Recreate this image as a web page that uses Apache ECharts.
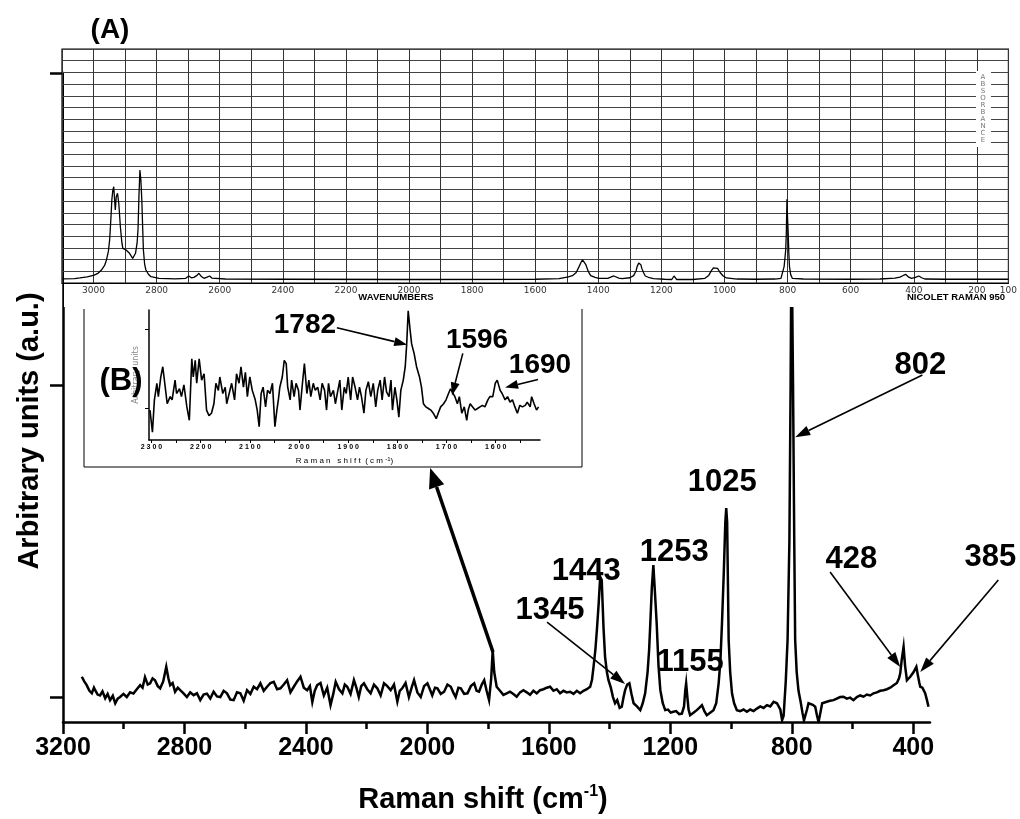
<!DOCTYPE html>
<html>
<head>
<meta charset="utf-8">
<title>Raman spectrum</title>
<script src="https://cdn.jsdelivr.net/npm/echarts@6/dist/echarts.min.js"></script>
<style>
html, body { margin: 0; padding: 0; background: #fff; }
#main { width: 1020px; height: 819px; }
</style>
</head>
<body>
<div id="main"></div>
<script>
// main spectrum: Raman shift (cm-1) / arbitrary units
var mainShift = [
  3138, 3130, 3122, 3113, 3105, 3098, 3094, 3086, 3078, 3070,
  3061, 3053, 3045, 3036, 3028, 3020, 3012, 3001, 2990, 2979,
  2968, 2957, 2946, 2938, 2930, 2921, 2913, 2905, 2897, 2888,
  2880, 2870, 2860, 2853, 2847, 2839, 2831, 2822, 2814, 2803,
  2792, 2781, 2770, 2759, 2748, 2737, 2726, 2715, 2704, 2693,
  2682, 2671, 2660, 2649, 2638, 2627, 2616, 2605, 2594, 2583,
  2572, 2561, 2550, 2539, 2528, 2517, 2506, 2495, 2484, 2473,
  2462, 2451, 2440, 2429, 2418, 2407, 2396, 2387, 2379, 2371,
  2363, 2352, 2341, 2330, 2319, 2310, 2302, 2291, 2280, 2272,
  2264, 2253, 2242, 2234, 2226, 2218, 2209, 2198, 2187, 2176,
  2165, 2154, 2143, 2132, 2121, 2110, 2099, 2091, 2083, 2072,
  2061, 2052, 2044, 2033, 2022, 2011, 2000, 1992, 1984, 1975,
  1967, 1956, 1945, 1934, 1923, 1915, 1907, 1898, 1890, 1879,
  1868, 1857, 1846, 1838, 1830, 1821, 1813, 1805, 1797, 1790,
  1785, 1780, 1772, 1761, 1750, 1739, 1728, 1717, 1706, 1695,
  1684, 1673, 1662, 1651, 1640, 1629, 1618, 1607, 1596, 1585,
  1574, 1563, 1552, 1541, 1530, 1519, 1508, 1497, 1486, 1475,
  1464, 1458, 1453, 1447, 1442, 1436, 1431, 1426, 1420, 1415,
  1409, 1404, 1396, 1389, 1382, 1375, 1367, 1360, 1354, 1349,
  1342, 1335, 1328, 1321, 1310, 1299, 1291, 1283, 1275, 1270,
  1266, 1261, 1256, 1251, 1245, 1239, 1233, 1225, 1217, 1208,
  1199, 1190, 1181, 1171, 1162, 1155, 1151, 1148, 1144, 1140,
  1135, 1124, 1113, 1105, 1096, 1088, 1080, 1069, 1058, 1049,
  1041, 1035, 1030, 1024, 1019, 1016, 1013, 1008, 1003, 997,
  990, 981, 970, 959, 948, 937, 926, 915, 904, 893,
  882, 871, 860, 849, 838, 832, 827, 820, 814, 808,
  804, 801, 799, 796, 792, 789, 784, 778, 772, 765,
  760, 756, 750, 745, 739, 731, 723, 717, 712, 706,
  700, 696, 685, 674, 663, 652, 641, 630, 619, 608,
  597, 586, 575, 564, 553, 542, 531, 520, 509, 498,
  487, 476, 465, 454, 447, 443, 438, 432, 427, 421,
  415, 410, 405, 399, 394, 390, 385, 380, 377, 370,
  365, 361, 355, 350
];
var mainSignal = [
  0.065, 0.050, 0.038, 0.020, 0.012, 0.030, 0.022, 0.008, 0.005, 0.018,
  -0.004, 0.010, -0.010, 0.004, -0.020, -0.005, 0.000, 0.010, 0.000, 0.015,
  0.011, 0.025, 0.038, 0.030, 0.064, 0.040, 0.044, 0.060, 0.054, 0.035,
  0.028, 0.050, 0.097, 0.060, 0.038, 0.045, 0.017, 0.030, 0.022, 0.012,
  0.000, 0.015, 0.006, 0.012, -0.010, 0.008, 0.011, -0.005, 0.017, 0.002,
  0.000, 0.020, 0.012, -0.008, -0.010, 0.015, 0.012, -0.012, 0.022, 0.010,
  0.033, 0.025, 0.044, 0.020, 0.033, 0.045, 0.049, 0.025, 0.028, 0.040,
  0.054, 0.015, 0.033, 0.050, 0.065, 0.030, 0.022, 0.035, -0.016, 0.020,
  0.038, 0.045, 0.005, 0.030, -0.026, 0.010, 0.049, 0.025, 0.012, 0.040,
  0.033, 0.010, 0.054, 0.030, 0.000, 0.035, 0.044, 0.025, 0.012, 0.040,
  0.028, 0.005, 0.044, 0.035, 0.022, 0.040, -0.015, 0.020, 0.028, 0.045,
  0.000, 0.030, 0.054, 0.015, 0.000, 0.035, 0.044, 0.025, 0.005, 0.030,
  0.028, 0.010, 0.017, 0.040, 0.033, 0.015, 0.000, 0.030, 0.028, 0.010,
  0.012, 0.035, 0.044, 0.020, 0.017, 0.040, 0.054, 0.020, -0.010, 0.060,
  0.150, 0.080, 0.033, 0.020, 0.007, 0.012, 0.017, 0.010, 0.001, 0.015,
  0.022, 0.015, 0.007, 0.020, 0.012, 0.022, 0.025, 0.030, 0.033, 0.020,
  0.025, 0.012, 0.020, 0.015, 0.017, 0.010, 0.020, 0.012, 0.020, 0.025,
  0.033, 0.055, 0.097, 0.150, 0.214, 0.300, 0.385, 0.375, 0.220, 0.129,
  0.080, 0.055, 0.030, 0.000, -0.020, -0.010, -0.035, -0.031, 0.000, 0.022,
  0.040, 0.044, 0.010, -0.020, -0.030, -0.042, -0.020, 0.012, 0.080, 0.150,
  0.236, 0.350, 0.423, 0.340, 0.236, 0.100, 0.022, -0.020, -0.042, -0.040,
  -0.050, -0.047, -0.045, -0.055, -0.053, -0.030, 0.020, 0.044, 0.000, -0.040,
  -0.058, -0.050, -0.042, -0.035, -0.026, -0.045, -0.058, -0.050, -0.042, -0.020,
  0.044, 0.120, 0.236, 0.400, 0.560, 0.606, 0.560, 0.183, 0.080, 0.012,
  -0.020, -0.042, -0.045, -0.040, -0.047, -0.040, -0.045, -0.037, -0.030, -0.035,
  -0.026, -0.030, -0.015, -0.020, -0.040, -0.074, -0.060, 0.050, 0.183, 0.500,
  1.000, 1.500, 1.500, 1.000, 0.500, 0.183, 0.080, 0.020, -0.010, -0.050,
  -0.075, -0.080, -0.040, -0.020, -0.015, -0.025, -0.031, -0.060, -0.080, -0.050,
  -0.020, -0.020, -0.015, -0.012, -0.010, -0.005, 0.000, 0.001, -0.005, -0.002,
  -0.010, 0.000, 0.005, 0.001, 0.008, 0.005, 0.012, 0.015, 0.020, 0.022,
  0.025, 0.030, 0.038, 0.045, 0.060, 0.076, 0.120, 0.161, 0.100, 0.054,
  0.060, 0.065, 0.065, 0.080, 0.090, 0.097, 0.070, 0.045, 0.033, 0.030,
  0.020, 0.012, -0.010, -0.031
];

// inset (A): instrument reference spectrum, wavenumbers / chart-grid units
var refShift = [
  3100, 3060, 3043, 3020, 2998, 2985, 2975, 2965, 2959, 2953,
  2949, 2945, 2942, 2939, 2936, 2933, 2931, 2928, 2924, 2920,
  2915, 2910, 2907, 2897, 2886, 2876, 2867, 2862, 2859, 2856,
  2853, 2850, 2847, 2844, 2842, 2838, 2834, 2826, 2818, 2792,
  2740, 2708, 2698, 2690, 2682, 2672, 2666, 2658, 2650, 2640,
  2632, 2625, 2619, 2582, 2400, 2000, 1600, 1524, 1495, 1482,
  1470, 1461, 1455, 1450, 1445, 1440, 1432, 1424, 1410, 1398,
  1370, 1351, 1335, 1325, 1300, 1288, 1280, 1277, 1272, 1269,
  1265, 1262, 1256, 1251, 1238, 1225, 1190, 1167, 1160, 1152,
  1100, 1062, 1050, 1041, 1035, 1029, 1022, 1015, 1005, 994,
  960, 900, 840, 821, 811, 806, 804, 802, 801, 800,
  798, 796, 794, 790, 785, 750, 600, 507, 460, 444,
  435, 426, 416, 407, 395, 384, 375, 365, 300, 200,
  100
];
var refSignal = [
  0.35, 0.38, 0.43, 0.52, 0.68, 0.85, 1.11, 1.50, 1.97, 2.70,
  3.68, 5.50, 7.10, 7.90, 8.23, 7.00, 6.24, 7.38, 7.67, 6.81,
  4.81, 3.40, 2.96, 2.82, 2.54, 2.11, 2.54, 3.40, 4.60, 7.50,
  9.66, 8.80, 7.10, 4.50, 2.82, 1.60, 1.11, 0.75, 0.54, 0.40,
  0.36, 0.40, 0.60, 0.45, 0.48, 0.65, 0.83, 0.55, 0.40, 0.50,
  0.60, 0.42, 0.37, 0.34, 0.32, 0.30, 0.32, 0.37, 0.52, 0.63,
  0.90, 1.40, 1.75, 1.97, 2.11, 1.60, 1.00, 0.63, 0.48, 0.40,
  0.40, 0.60, 0.42, 0.37, 0.45, 0.63, 1.05, 1.40, 1.70, 1.77,
  1.55, 1.25, 0.85, 0.60, 0.45, 0.37, 0.32, 0.30, 0.60, 0.30,
  0.30, 0.40, 0.65, 1.08, 1.30, 1.42, 1.25, 0.94, 0.62, 0.43,
  0.34, 0.32, 0.34, 0.40, 1.40, 2.80, 4.25, 7.15, 7.15, 5.50,
  4.25, 2.50, 1.40, 0.70, 0.40, 0.34, 0.32, 0.34, 0.42, 0.50,
  0.62, 0.74, 0.50, 0.40, 0.48, 0.60, 0.45, 0.34, 0.32, 0.32,
  0.32
];

// inset (B): zoom on 2300-1510 cm-1
var zoomShift = [
  2303, 2298, 2294, 2289, 2286, 2281, 2277, 2272, 2268, 2262,
  2258, 2252, 2249, 2243, 2239, 2234, 2228, 2223, 2218, 2215,
  2211, 2208, 2203, 2198, 2193, 2188, 2183, 2178, 2173, 2169,
  2164, 2161, 2155, 2150, 2147, 2142, 2137, 2131, 2127, 2122,
  2118, 2113, 2109, 2105, 2100, 2095, 2089, 2085, 2081, 2077,
  2073, 2068, 2064, 2059, 2054, 2049, 2045, 2042, 2039, 2034,
  2030, 2026, 2023, 2018, 2015, 2010, 2006, 2001, 1998, 1993,
  1989, 1984, 1980, 1976, 1971, 1967, 1962, 1957, 1953, 1948,
  1944, 1940, 1936, 1930, 1926, 1921, 1917, 1913, 1908, 1904,
  1900, 1895, 1891, 1886, 1881, 1877, 1873, 1868, 1864, 1859,
  1854, 1849, 1844, 1840, 1835, 1831, 1826, 1822, 1817, 1813,
  1810, 1805, 1801, 1797, 1793, 1788, 1784, 1781, 1778, 1774,
  1771, 1766, 1761, 1755, 1751, 1747, 1742, 1737, 1732, 1727,
  1721, 1717, 1712, 1706, 1701, 1696, 1692, 1688, 1683, 1678,
  1674, 1669, 1664, 1659, 1656, 1652, 1647, 1642, 1637, 1632,
  1627, 1622, 1616, 1612, 1606, 1601, 1597, 1591, 1587, 1581,
  1576, 1571, 1566, 1561, 1556, 1551, 1546, 1540, 1536, 1530,
  1527, 1522, 1517, 1513
];
var zoomSignal = [
  -0.02, -0.30, 0.11, 0.32, 0.15, 0.40, 0.53, 0.27, 0.06, 0.15,
  0.11, 0.36, 0.19, 0.25, 0.15, 0.30, 0.02, -0.15, 0.63, 0.40,
  0.61, 0.32, 0.63, 0.36, 0.44, -0.02, -0.09, -0.06, 0.06, 0.32,
  0.23, 0.40, 0.19, 0.27, 0.06, 0.19, 0.32, 0.11, 0.44, 0.32,
  0.53, 0.27, 0.46, 0.15, 0.40, 0.23, 0.11, -0.02, -0.23, 0.19,
  0.27, 0.02, 0.23, 0.19, 0.32, -0.23, -0.02, 0.11, 0.27, 0.40,
  0.61, 0.57, 0.27, 0.11, 0.36, 0.15, 0.32, 0.23, -0.02, 0.32,
  0.57, 0.19, 0.36, 0.15, 0.32, 0.23, 0.27, 0.11, 0.32, 0.23,
  -0.02, 0.32, 0.15, 0.23, 0.06, 0.23, 0.36, -0.02, 0.27, 0.19,
  0.40, 0.11, 0.40, 0.27, 0.11, 0.27, 0.15, -0.06, 0.23, 0.34,
  0.15, 0.32, 0.02, 0.23, 0.36, 0.11, 0.40, 0.21, 0.15, 0.36,
  -0.02, 0.27, 0.11, -0.11, 0.23, 0.36, 0.53, 0.82, 1.24, 0.99,
  0.82, 0.70, 0.53, 0.40, 0.27, 0.06, 0.02, 0.00, -0.02, -0.06,
  -0.13, -0.06, 0.02, 0.06, 0.11, 0.19, 0.25, 0.23, 0.15, 0.06,
  0.15, -0.06, 0.02, -0.15, -0.02, 0.06, 0.02, -0.02, 0.00, 0.02,
  0.04, 0.02, 0.11, 0.15, 0.15, 0.32, 0.36, 0.23, 0.19, 0.11,
  0.15, 0.08, 0.11, 0.02, -0.06, 0.04, 0.02, 0.04, 0.08, 0.02,
  0.15, 0.06, -0.02, 0.02
];

// ticks
var mainMajorTicks = [3200, 2800, 2400, 2000, 1600, 1200, 800, 400];
var mainMinorTicks = [3000, 2600, 2200, 1800, 1400, 1000, 600];
var mainYTicks = [0, 1, 2];
var zoomTicks = [2300, 2250, 2200, 2150, 2100, 2050, 2000, 1950, 1900, 1850, 1800, 1750, 1700, 1650, 1600, 1550];
var zoomLabels = [2300, 2200, 2100, 2000, 1900, 1800, 1700, 1600];
var zoomYTicks = [0, 1];

// peak annotations: [text, shift, signal] of the label centre
var peakLabels = [
  ['1443', 1477, 0.404],
  ['1345', 1596, 0.279],
  ['1253', 1187, 0.462],
  ['1155', 1135, 0.112],
  ['1025', 1029, 0.689],
  ['802', 377, 1.064],
  ['428', 604, 0.442],
  ['385', 146, 0.446]
];
// arrows: [fromShift, fromSignal, toShift, toSignal]
var peakArrows = [
  [1606, 0.240, 1349, 0.042],
  [370, 1.032, 789, 0.833],
  [674, 0.401, 443, 0.096],
  [120, 0.375, 377, 0.080]
];
var insetArrow = [1784, 0.144, 1991, 0.734];
var zoomPeakLabels = [
  ['1782', 1988, 1.05],
  ['1596', 1638, 0.87],
  ['1690', 1510, 0.544]
];
var zoomPeakArrows = [
  [1923, 1.025, 1780, 0.81],
  [1667, 0.70, 1689, 0.165],
  [1514, 0.367, 1581, 0.266]
];

var FONT = 'Liberation Sans';

function pairs(xs, ys) {
  return xs.map(function (x, i) { return [x, ys[i]]; });
}

var chart = echarts.init(document.getElementById('main'));

var option = {
  animation: false,
  backgroundColor: '#fff',
  grid: [
    { left: 63, right: 90, top: 73, bottom: 97 },
    { left: 62, right: 4, top: 49, height: 234, show: true, borderColor: '#000', borderWidth: 1.2, backgroundColor: 'transparent', z: 4 },
    { left: 149, width: 391, top: 310, height: 130 }
  ],
  xAxis: [
    {
      gridIndex: 0, type: 'value', inverse: true, min: 345, max: 3200, position: 'bottom',
      axisLine: { onZero: false, lineStyle: { color: '#000', width: 2.5 } },
      axisTick: { customValues: mainMajorTicks, length: 12, lineStyle: { color: '#000', width: 2.5 } },
      axisLabel: {
        customValues: mainMajorTicks, color: '#000', fontFamily: FONT, fontWeight: 'bold', fontSize: 25, margin: 14,
        formatter: function (v) { return String(v); }
      },
      splitLine: { show: false }
    },
    {
      gridIndex: 0, type: 'value', inverse: true, min: 345, max: 3200, position: 'bottom',
      axisLine: { show: false, onZero: false },
      axisTick: { customValues: mainMinorTicks, length: 7, lineStyle: { color: '#000', width: 2.5 } },
      axisLabel: { show: false },
      splitLine: { show: false }
    },
    {
      gridIndex: 1, type: 'value', inverse: true, min: 100, max: 3100, interval: 100, position: 'bottom', z: 4,
      axisLine: { onZero: false, lineStyle: { color: '#000', width: 1.2 } },
      axisTick: { show: false },
      axisLabel: {
        color: '#333', fontFamily: 'DejaVu Sans', fontSize: 9, margin: 3,
        formatter: function (v) { return (v % 200 === 0 || v === 100) ? String(v) : ''; }
      },
      splitLine: { show: true, lineStyle: { color: '#333', width: 1 } }
    },
    {
      gridIndex: 2, type: 'value', inverse: true, min: 1510, max: 2305, position: 'bottom', z: 6,
      axisLine: { onZero: false, lineStyle: { color: '#000', width: 1.5 } },
      axisTick: { customValues: zoomTicks, length: 3, lineStyle: { color: '#000', width: 1 } },
      axisLabel: {
        customValues: zoomLabels, color: '#000', fontFamily: FONT, fontWeight: 'bold', fontSize: 7, margin: 4,
        formatter: function (v) { return String(v).split('').join(' '); }
      },
      splitLine: { show: false },
      name: '{a|R a m a n   s h i f t  ( c m }{s|-1}{a|)}',
      nameLocation: 'middle', nameGap: 16,
      nameTextStyle: {
        rich: {
          a: { fontFamily: FONT, fontSize: 8, color: '#000', lineHeight: 10 },
          s: { fontFamily: FONT, fontSize: 6, color: '#000', verticalAlign: 'top', lineHeight: 10 }
        }
      }
    }
  ],
  yAxis: [
    {
      gridIndex: 0, type: 'value', min: -0.08, max: 2,
      axisLine: { show: true, onZero: false, lineStyle: { color: '#000', width: 2.5 } },
      axisTick: { show: true, customValues: mainYTicks, length: 13, lineStyle: { color: '#000', width: 2.5 } },
      axisLabel: { show: false },
      splitLine: { show: false }
    },
    {
      gridIndex: 1, type: 'value', min: 0, max: 20, interval: 1, z: 4,
      axisLine: { show: false },
      axisTick: { show: false },
      axisLabel: { show: false },
      splitLine: { show: true, lineStyle: { color: '#444', width: 1 } }
    },
    {
      gridIndex: 2, type: 'value', min: -0.4, max: 1.25, z: 6,
      axisLine: { show: true, onZero: false, lineStyle: { color: '#000', width: 1.5 } },
      axisTick: { show: true, customValues: zoomYTicks, length: 4, lineStyle: { color: '#000', width: 1 } },
      axisLabel: { show: false },
      splitLine: { show: false },
      name: 'Arbitrary units', nameLocation: 'middle', nameGap: 9,
      nameTextStyle: { color: '#888', fontFamily: 'DejaVu Sans', fontSize: 8 }
    }
  ],
  series: [
    {
      type: 'line', xAxisIndex: 0, yAxisIndex: 0, z: 2,
      data: pairs(mainShift, mainSignal),
      showSymbol: false, symbol: 'none',
      lineStyle: { color: '#000', width: 2.5, join: 'miter' }
    },
    {
      type: 'line', xAxisIndex: 2, yAxisIndex: 1, z: 5,
      data: pairs(refShift, refSignal),
      showSymbol: false, symbol: 'none',
      lineStyle: { color: '#000', width: 1.3 }
    },
    {
      type: 'line', xAxisIndex: 3, yAxisIndex: 2, z: 6,
      data: pairs(zoomShift, zoomSignal),
      showSymbol: false, symbol: 'none',
      lineStyle: { color: '#000', width: 1.6 }
    }
  ]
};

chart.setOption(option);

function text(x, y, str, size, extra) {
  var st = { text: str, fontFamily: FONT, fontWeight: 'bold', fontSize: size, fill: '#000',
             align: 'center', verticalAlign: 'middle', textAlign: 'center', textVerticalAlign: 'middle' };
  if (extra) { for (var k in extra) st[k] = extra[k]; }
  return { type: 'text', x: x, y: y, z: 10, silent: true, style: st };
}

function arrow(p, q, w, headLen, headHalf) {
  var dx = q[0] - p[0], dy = q[1] - p[1];
  var len = Math.sqrt(dx * dx + dy * dy);
  var ux = dx / len, uy = dy / len;
  var bx = q[0] - ux * headLen, by = q[1] - uy * headLen;
  return [
    { type: 'line', z: 10, silent: true, shape: { x1: p[0], y1: p[1], x2: bx, y2: by }, style: { stroke: '#000', lineWidth: w } },
    { type: 'polygon', z: 10, silent: true,
      shape: { points: [[q[0], q[1]], [bx - uy * headHalf, by + ux * headHalf], [bx + uy * headHalf, by - ux * headHalf]] },
      style: { fill: '#000' } }
  ];
}

var mainFinder = { xAxisIndex: 0, yAxisIndex: 0 };
var zoomFinder = { xAxisIndex: 3, yAxisIndex: 2 };
function px(f, x, y) { return chart.convertToPixel(f, [x, y]); }

var g = [];
// white panel for inset (A), hides what lies under it
g.push({ type: 'rect', z: 3, silent: true, shape: { x: 64, y: 44, width: 956, height: 263 }, style: { fill: '#fff' } });
g.push(text(110, 30, '(A)', 28));
g.push(text(396, 297, 'WAVENUMBERS', 9.5));
g.push(text(956, 297, 'NICOLET RAMAN 950', 9.5));
g.push({ type: 'rect', z: 6, silent: true, shape: { x: 976, y: 71, width: 15, height: 76 }, style: { fill: '#fff' } });
g.push(text(983, 109, 'A\nB\nS\nO\nR\nB\nA\nN\nC\nE', 7,
  { fontFamily: 'DejaVu Sans', fontWeight: 'normal', fill: '#777', lineHeight: 7 }));

// frame of inset (B)
g.push({ type: 'polyline', z: 6, silent: true, shape: { points: [[84, 309], [84, 467], [582, 467], [582, 309]] }, style: { stroke: '#000', lineWidth: 1, fill: null } });
g.push(text(121, 381, '(B)', 31));

// axis titles
var yTitle = text(30, 431, 'Arbitrary units (a.u.)', 29);
yTitle.rotation = Math.PI / 2;
g.push(yTitle);
g.push({ type: 'text', x: 483, y: 800, z: 10, silent: true, style: {
  text: '{a|Raman shift (cm}{s|-1}{a|)}', align: 'center', verticalAlign: 'middle', textAlign: 'center', textVerticalAlign: 'middle',
  rich: {
    a: { fontFamily: FONT, fontWeight: 'bold', fontSize: 29, fill: '#000', lineHeight: 33 },
    s: { fontFamily: FONT, fontWeight: 'bold', fontSize: 16, fill: '#000', verticalAlign: 'top', lineHeight: 33 }
  } } });

peakLabels.forEach(function (l) {
  var p = px(mainFinder, l[1], l[2]);
  g.push(text(p[0], p[1], l[0], 31));
});
peakArrows.forEach(function (a) {
  g = g.concat(arrow(px(mainFinder, a[0], a[1]), px(mainFinder, a[2], a[3]), 1.6, 15, 5));
});
g = g.concat(arrow(px(mainFinder, insetArrow[0], insetArrow[1]), px(mainFinder, insetArrow[2], insetArrow[3]), 3.5, 20, 8));

zoomPeakLabels.forEach(function (l) {
  var p = px(zoomFinder, l[1], l[2]);
  g.push(text(p[0], p[1], l[0], 28));
});
zoomPeakArrows.forEach(function (a) {
  g = g.concat(arrow(px(zoomFinder, a[0], a[1]), px(zoomFinder, a[2], a[3]), 1.6, 13, 4.5));
});

chart.setOption({ graphic: { elements: g } });
</script>
</body>
</html>
